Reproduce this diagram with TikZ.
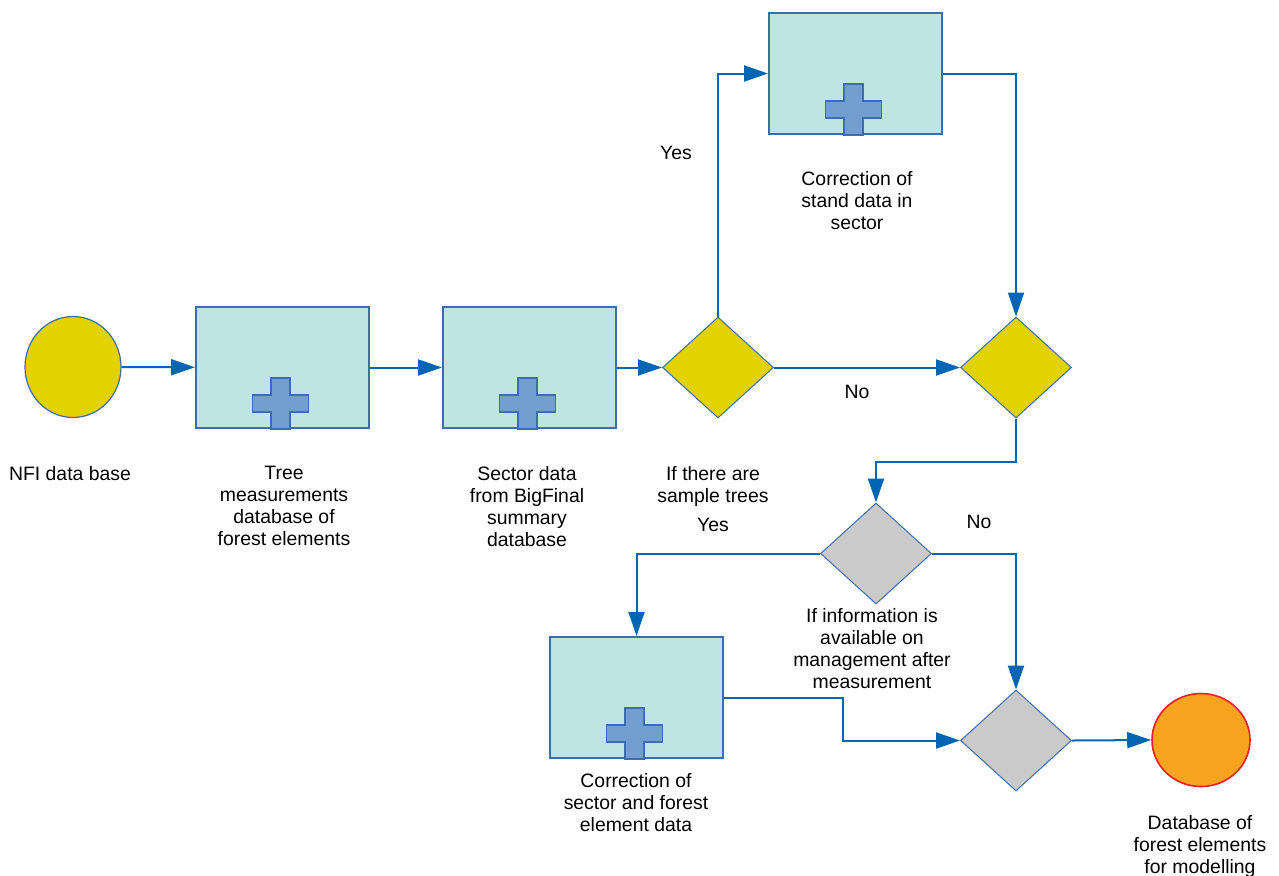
\documentclass[tikz,border=0pt]{standalone}
\usepackage{fontspec}
\setmainfont{Liberation Sans}
\usetikzlibrary{shapes.geometric,arrows.meta}
\definecolor{boxfill}{HTML}{BEE4E4}
\definecolor{boxline}{HTML}{3C6DB0}
\definecolor{plusfill}{HTML}{729FCF}
\definecolor{conn}{HTML}{0066B3}
\definecolor{gyellow}{HTML}{E1D200}
\definecolor{ggray}{HTML}{CACACA}
\definecolor{endfill}{HTML}{F8A41E}
\definecolor{endline}{HTML}{EE1C24}
\tikzset{
  task/.style={draw=boxline, fill=boxfill, line width=1pt, minimum width=86.5pt, minimum height=60.5pt, inner sep=0pt},
  gate/.style={diamond, draw=boxline, line width=0.5pt, minimum width=55.5pt, minimum height=50.5pt, inner sep=0pt, aspect=1.1},
  plusmark/.style={draw=boxline, fill=plusfill, line width=0.8pt},
  flow/.style={draw=conn, line width=1pt, -{Triangle[length=12pt,width=8pt]}},
  lbl/.style={align=center, anchor=north, inner sep=0pt, font=\fontsize{9.7}{11}\selectfont},
}
\newcommand{\plusin}[1]{%
  \draw[plusmark, shift={(#1.south)}] (-11.5,0) -- (-11.5,-17) -- (-30,-17) -- (-30,-34) -- (-11.5,-34) -- (-11.5,-51) -- (7.5,-51) -- (7.5,-34) -- (26,-34) -- (26,-17) -- (7.5,-17) -- (7.5,0) -- cycle;}
\begin{document}
\begin{tikzpicture}[x=0.5pt,y=-0.5pt]
\useasboundingbox (0,0) rectangle (1279,875);
% nodes
\node[ellipse, draw=boxline, fill=gyellow, line width=0.6pt, minimum width=48pt, minimum height=50.5pt, inner sep=0pt] (start) at (73,367) {};
\node[task] (b1) at (282.5,367.5) {};
\node[task] (b2) at (529.5,367.5) {};
\node[gate, fill=gyellow] (d1) at (718,367.5) {};
\node[task] (bt) at (855.5,73.5) {};
\node[gate, fill=gyellow] (d2) at (1016,367.5) {};
\node[gate, fill=ggray] (d3) at (876,553.5) {};
\node[task] (bb) at (636.5,697.5) {};
\node[gate, fill=ggray] (d4) at (1016,740.5) {};
\node[ellipse, draw=endline, fill=endfill, line width=0.8pt, minimum width=49pt, minimum height=46.5pt, inner sep=0pt] (end) at (1201,740) {};
\plusin{b1}
\plusin{b2}
\plusin{bt}
\plusin{bb}
% connectors
\draw[flow] (start) -- (b1);
\draw[flow] (b1) -- (b2);
\draw[flow] (b2) -- (d1.west);
\draw[flow] (d1.north) |- (bt.west);
\draw[flow] (d1.east) -- (d2.west);
\draw[flow] (bt.east) -| (d2.north);
\draw[flow] (d2.south) -- ++(0,43) -| (d3.north);
\draw[flow] (d3.west) -| (bb.north);
\draw[flow] (d3.east) -| (d4.north);
\draw[flow] (bb.east) -- ++(119,0) |- (d4.west);
\draw[flow] (d4.east) -- (end.west);
% labels
\node[lbl] (t0) at (70,466) {NFI data base};
\node[lbl] (t1) at (284,466) {Tree\\measurements\\database of\\forest elements};
\node[lbl] (t2) at (527,466) {Sector data\\from BigFinal\\summary\\database};
\node[lbl] (t3) at (713,466) {If there are\\sample trees};
\node[lbl] (t4) at (857,171) {Correction of\\stand data in\\sector};
\node[lbl] (t5) at (872,608) {If information is\\available on\\management after\\measurement};
\node[lbl] (t6) at (636,773) {Correction of\\sector and forest\\element data};
\node[lbl] (t7) at (1200,815) {Database of\\forest elements\\for modelling};
\node[lbl] (y1) at (676,146) {Yes};
\node[lbl] (n1) at (857,385) {No};
\node[lbl] (y2) at (713,518) {Yes};
\node[lbl] (n2) at (979,515) {No};
\end{tikzpicture}
\end{document}
